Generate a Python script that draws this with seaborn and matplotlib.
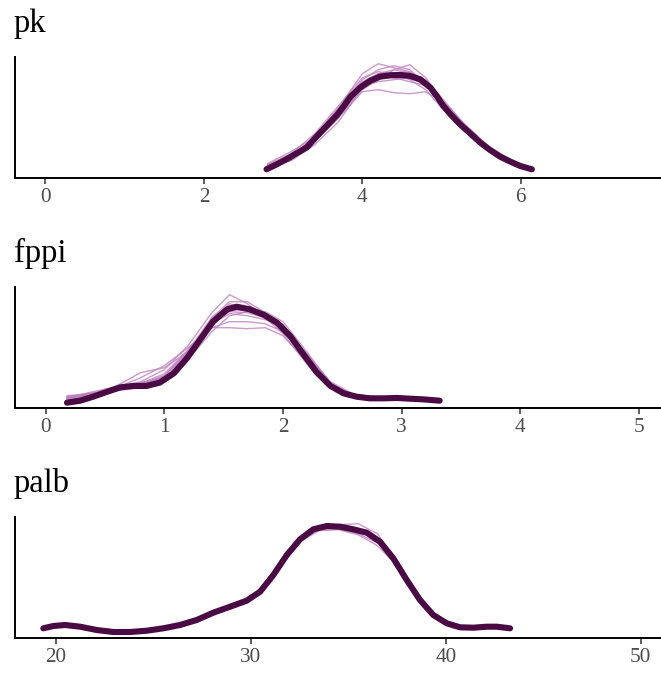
import numpy as np
import pandas as pd
import matplotlib
matplotlib.use("Agg")
import matplotlib.pyplot as plt
import seaborn as sns

# ---------------- data ----------------
panel_titles = ["pk", "fppi", "palb"]

# pk
pk_x = [2.79, 2.92, 3.05, 3.17, 3.30, 3.42, 3.55, 3.68, 3.76, 3.85, 3.97, 4.10, 4.22, 4.35, 4.48,
        4.60, 4.73, 4.86, 4.94, 5.02, 5.11, 5.23, 5.36, 5.49, 5.61, 5.74, 5.87, 5.99, 6.14]
pk_y = [0.042, 0.067, 0.094, 0.122, 0.152, 0.205, 0.259, 0.314, 0.355, 0.405, 0.450, 0.485, 0.505,
        0.512, 0.514, 0.509, 0.492, 0.450, 0.408, 0.360, 0.318, 0.268, 0.222, 0.175, 0.139, 0.105,
        0.080, 0.059, 0.042]
pk_rep_x = [2.8, 3.1, 3.4, 3.7, 4.0, 4.2, 4.4, 4.6, 4.8, 5.0, 5.3, 5.6, 5.9, 6.15]
pk_reps = [
    [0.050, 0.100, 0.210, 0.350, 0.520, 0.570, 0.550, 0.530, 0.480, 0.370, 0.240, 0.140, 0.075, 0.040],
    [0.060, 0.110, 0.190, 0.310, 0.440, 0.490, 0.540, 0.565, 0.500, 0.390, 0.250, 0.145, 0.080, 0.045],
    [0.045, 0.090, 0.180, 0.300, 0.430, 0.440, 0.425, 0.420, 0.430, 0.380, 0.260, 0.150, 0.075, 0.040],
    [0.065, 0.120, 0.220, 0.360, 0.500, 0.530, 0.520, 0.490, 0.440, 0.350, 0.230, 0.135, 0.070, 0.035],
    [0.055, 0.085, 0.165, 0.280, 0.450, 0.520, 0.540, 0.525, 0.480, 0.380, 0.250, 0.145, 0.080, 0.045],
    [0.070, 0.130, 0.200, 0.330, 0.460, 0.480, 0.490, 0.500, 0.490, 0.400, 0.260, 0.150, 0.075, 0.040],
    [0.040, 0.090, 0.200, 0.340, 0.490, 0.540, 0.560, 0.540, 0.470, 0.360, 0.235, 0.135, 0.070, 0.040],
    [0.050, 0.105, 0.185, 0.300, 0.460, 0.510, 0.500, 0.480, 0.460, 0.390, 0.265, 0.155, 0.085, 0.045],
    [0.045, 0.095, 0.195, 0.325, 0.470, 0.505, 0.515, 0.505, 0.465, 0.375, 0.245, 0.140, 0.074, 0.040],
    [0.048, 0.100, 0.205, 0.335, 0.480, 0.520, 0.525, 0.515, 0.475, 0.380, 0.248, 0.142, 0.076, 0.042],
    [0.044, 0.092, 0.188, 0.318, 0.462, 0.495, 0.505, 0.500, 0.462, 0.372, 0.242, 0.138, 0.072, 0.040],
    [0.052, 0.098, 0.200, 0.330, 0.475, 0.500, 0.500, 0.495, 0.470, 0.385, 0.250, 0.143, 0.075, 0.041],
]

# fppi
fppi_x = [0.18, 0.29, 0.40, 0.52, 0.63, 0.74, 0.85, 0.96, 1.08, 1.19, 1.30, 1.41, 1.53, 1.61, 1.72,
          1.84, 1.95, 2.06, 2.17, 2.28, 2.40, 2.51, 2.62, 2.73, 2.85, 2.96, 3.07, 3.18, 3.32]
fppi_y = [0.040, 0.056, 0.088, 0.128, 0.163, 0.174, 0.174, 0.200, 0.275, 0.395, 0.542, 0.688, 0.787,
          0.808, 0.787, 0.742, 0.680, 0.574, 0.430, 0.288, 0.174, 0.115, 0.088, 0.075, 0.075, 0.078,
          0.072, 0.067, 0.056]
fppi_rep_x = [0.18, 0.4, 0.6, 0.8, 1.0, 1.2, 1.4, 1.55, 1.7, 1.85, 2.0, 2.2, 2.4, 2.6, 2.9, 3.2]
fppi_reps = [
    [0.072, 0.112, 0.160, 0.208, 0.304, 0.496, 0.760, 0.904, 0.832, 0.720, 0.592, 0.352, 0.160, 0.088, 0.072, 0.064],
    [0.088, 0.120, 0.144, 0.176, 0.256, 0.440, 0.640, 0.688, 0.688, 0.672, 0.608, 0.400, 0.192, 0.096, 0.072, 0.064],
    [0.064, 0.104, 0.176, 0.280, 0.320, 0.448, 0.688, 0.800, 0.800, 0.752, 0.640, 0.384, 0.160, 0.088, 0.080, 0.064],
    [0.080, 0.128, 0.168, 0.200, 0.240, 0.384, 0.608, 0.736, 0.768, 0.768, 0.688, 0.448, 0.192, 0.096, 0.072, 0.056],
    [0.096, 0.112, 0.136, 0.160, 0.224, 0.432, 0.704, 0.832, 0.784, 0.720, 0.624, 0.384, 0.176, 0.096, 0.080, 0.072],
    [0.072, 0.096, 0.160, 0.240, 0.336, 0.480, 0.640, 0.640, 0.632, 0.640, 0.576, 0.368, 0.176, 0.096, 0.072, 0.064],
    [0.080, 0.104, 0.152, 0.184, 0.240, 0.416, 0.720, 0.848, 0.848, 0.760, 0.624, 0.400, 0.176, 0.088, 0.072, 0.064],
    [0.088, 0.112, 0.144, 0.192, 0.272, 0.464, 0.672, 0.752, 0.736, 0.704, 0.656, 0.432, 0.208, 0.104, 0.080, 0.064],
    [0.064, 0.096, 0.152, 0.176, 0.224, 0.424, 0.688, 0.784, 0.776, 0.736, 0.656, 0.416, 0.184, 0.096, 0.076, 0.064],
    [0.072, 0.104, 0.160, 0.184, 0.240, 0.440, 0.704, 0.800, 0.784, 0.744, 0.664, 0.424, 0.184, 0.096, 0.078, 0.066],
    [0.056, 0.088, 0.144, 0.168, 0.208, 0.400, 0.672, 0.768, 0.760, 0.720, 0.640, 0.408, 0.176, 0.092, 0.074, 0.062],
    [0.080, 0.112, 0.168, 0.192, 0.256, 0.456, 0.720, 0.816, 0.792, 0.752, 0.664, 0.424, 0.192, 0.100, 0.080, 0.066],
]

# palb
palb_x = [19.36, 19.88, 20.48, 21.25, 22.10, 22.95, 23.81, 24.67, 25.52, 26.37, 27.23, 28.08, 28.94,
          29.79, 30.48, 31.16, 31.85, 32.53, 33.21, 33.90, 34.58, 35.26, 35.95, 36.63, 37.31, 38.00,
          38.68, 39.36, 40.05, 40.73, 41.42, 42.10, 42.62, 43.30]
palb_y = [0.0094, 0.0117, 0.0127, 0.0110, 0.0077, 0.0057, 0.0057, 0.0070, 0.0094, 0.0127, 0.0177,
          0.0250, 0.0310, 0.0370, 0.0460, 0.0627, 0.0827, 0.0984, 0.1084, 0.1117, 0.1110, 0.1084,
          0.1050, 0.0960, 0.0794, 0.0577, 0.0377, 0.0227, 0.0144, 0.0104, 0.0100, 0.0110, 0.0110, 0.0094]
palb_rep_x = [30.5, 31.5, 32.5, 33.5, 34.5, 35.5, 36.5, 37.5, 38.5]
palb_reps = [
    [0.047, 0.073, 0.099, 0.111, 0.113, 0.114, 0.104, 0.076, 0.042],
    [0.045, 0.070, 0.096, 0.107, 0.108, 0.103, 0.092, 0.072, 0.042],
    [0.048, 0.074, 0.097, 0.108, 0.109, 0.104, 0.095, 0.074, 0.043],
]

pk_ticks = [0, 2, 4, 6]
fppi_ticks = [0, 1, 2, 3, 4, 5]
palb_ticks = [20, 30, 40, 50]

# ---------------- style ----------------
sns.set_theme(style="white")
plt.rcParams["font.family"] = ["Liberation Serif", "DejaVu Serif"]

DARK = "#4a0a44"
LIGHT = "#bf80bf"

W, H = 661, 673
fig = plt.figure(figsize=(W / 100, H / 100), dpi=100)
fig.patch.set_facecolor("white")

panels = [
    dict(title="pk", x=pk_x, y=pk_y, rx=pk_rep_x, reps=pk_reps, ticks=pk_ticks,
         xlim=(-0.385, 7.77), ytop=0.6035, top=57.0),
    dict(title="fppi", x=fppi_x, y=fppi_y, rx=fppi_rep_x, reps=fppi_reps, ticks=fppi_ticks,
         xlim=(-0.258, 5.185), ytop=0.9656, top=287.0),
    dict(title="palb", x=palb_x, y=palb_y, rx=palb_rep_x, reps=palb_reps, ticks=palb_ticks,
         xlim=(17.91, 51.04), ytop=0.1207, top=517.0),
]

left_px = 15.0
ph = 120.7
for p in panels:
    top = p["top"]
    ax = fig.add_axes([left_px / W, (H - top - ph) / H, (W - left_px) / W, ph / H])
    ax.set_facecolor("white")
    for rep in p["reps"]:
        d = pd.DataFrame({"x": p["rx"], "y": rep})
        sns.lineplot(data=d, x="x", y="y", ax=ax, color=LIGHT, alpha=0.8, linewidth=1.0,
                     sort=False, estimator=None)
    d = pd.DataFrame({"x": p["x"], "y": p["y"]})
    sns.lineplot(data=d, x="x", y="y", ax=ax, color=DARK, linewidth=4.4, sort=False,
                 estimator=None, solid_capstyle="round", solid_joinstyle="round")
    ax.set_xlim(*p["xlim"])
    ax.set_ylim(0, p["ytop"])
    ax.set_xticks(p["ticks"])
    ax.set_xticklabels([str(t) for t in p["ticks"]])
    ax.set_yticks([])
    ax.set_xlabel("")
    ax.set_ylabel("")
    for s in ["top", "right"]:
        ax.spines[s].set_visible(False)
    for s in ["left", "bottom"]:
        ax.spines[s].set_visible(True)
        ax.spines[s].set_color("black")
        ax.spines[s].set_linewidth(1.4)
    ax.tick_params(axis="x", bottom=True, length=4.3, width=1.1, color="#333333",
                   labelsize=15.3, labelcolor="#4d4d4d", pad=3.0, direction="out")
    ax.grid(False)
    fig.text(14 / W, (H - (top - 25)) / H, p["title"], fontsize=23.5, color="black",
             ha="left", va="baseline")

fig.savefig("out.png", dpi=100, facecolor="white")
